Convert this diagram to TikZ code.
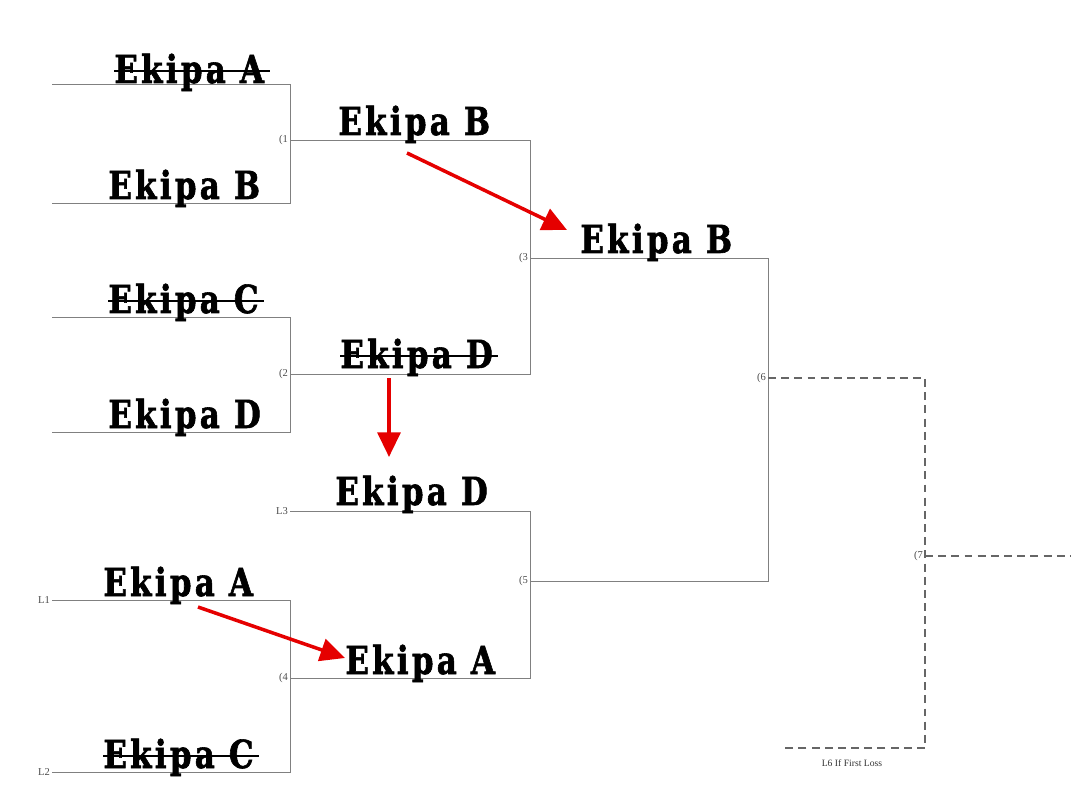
\documentclass[tikz,border=0pt]{standalone}
\usepackage{fontspec}
\setmainfont{Liberation Serif}
\newfontfamily\teamfont[FakeStretch=0.8,LetterSpace=8.5,FakeBold=1.5]{DejaVu Serif}
\usetikzlibrary{arrows.meta}
\tikzset{
  line/.style={draw=black!50, line width=0.5pt},
  tbd/.style={draw=black!60, line width=0.6pt, dash pattern=on 4.5pt off 3pt},
  team/.style={font=\teamfont\bfseries\fontsize{22}{22}\selectfont, anchor=base west, inner sep=0pt},
  strike/.style={draw=black, line width=1.3pt},
  gamenr/.style={font=\fontsize{6}{6}\selectfont, text=black!70, anchor=east, inner sep=1pt},
  winner/.style={draw=red!90!black, line width=2pt, -{Triangle[length=14pt,width=13pt]}}
}
\begin{document}
\begin{tikzpicture}[x=0.02cm, y=-0.02cm]
	\useasboundingbox (0,0) rectangle (1082,787);
	
	% ugla e shortit
	\coordinate (m1a) at (52,84);   \coordinate (m1b) at (52,203);
	\coordinate (m2a) at (52,317);  \coordinate (m2b) at (52,432);
	\coordinate (m4a) at (52,600);  \coordinate (m4b) at (52,772);
	\coordinate (w1) at (290,140);  \coordinate (w2) at (290,374);
	\coordinate (w4) at (290,678);  \coordinate (l3) at (290,511);
	\coordinate (w3) at (530,258);  \coordinate (w5) at (530,581);
	\coordinate (w6) at (768,378);  \coordinate (w7) at (925,556);
	\coordinate (l6) at (782,748);  \coordinate (end) at (1070,556);
	
	% raundi i pare
	\draw[line] (m1a) -- (m1a -| w1) -- (m1b -| w1) -- (m1b);
	\draw[line] (m2a) -- (m2a -| w2) -- (m2b -| w2) -- (m2b);
	\draw[line] (m4a) -- (m4a -| w4) -- (m4b -| w4) -- (m4b);
	
	% raundi i dyte
	\draw[line] (w1) -- (w1 -| w3) -- (w2 -| w3) -- (w2);
	\draw[line] (l3) -- (l3 -| w5) -- (w4 -| w5) -- (w4);
	
	% finalja
	\draw[line] (w3) -- (w3 -| w6) -- (w5 -| w6) -- (w5);
	\draw[tbd] (w6) -- (w6 -| w7) -- (l6 -| w7) -- (l6);
	\draw[tbd] (w7) -- (end);
	
	% numrat e ndeshjeve
	\node[gamenr] (n1) at (w1) {(1};
	\node[gamenr] (n2) at (w2) {(2};
	\node[gamenr] (n3) at (w3) {(3};
	\node[gamenr] (n4) at (w4) {(4};
	\node[gamenr] (n5) at (w5) {(5};
	\node[gamenr] (n6) at (w6) {(6};
	\node[gamenr] (n7) at (w7) {(7};
	\node[gamenr] (L1) at (m4a) {L1};
	\node[gamenr] (L2) at (m4b) {L2};
	\node[gamenr] (L3) at (l3) {L3};
	\node[font=\fontsize{5.5}{6}\selectfont, text=black!80, anchor=north] (L6) at (852,753) {L6 If First Loss};
	
	% ekipet
	\node[team] (tA1) at (114,83)  {Ekipa A};
	\node[team] (tB1) at (108,199) {Ekipa B};
	\node[team] (tC2) at (108,313) {Ekipa C};
	\node[team] (tD2) at (108,428) {Ekipa D};
	\node[team] (tB3) at (338,135) {Ekipa B};
	\node[team] (tD3) at (340,368) {Ekipa D};
	\node[team] (tB6) at (580,253) {Ekipa B};
	\node[team] (tD5) at (335,505) {Ekipa D};
	\node[team] (tA4) at (103,596) {Ekipa A};
	\node[team] (tA5) at (345,674) {Ekipa A};
	\node[team] (tC4) at (103,768) {Ekipa C};
	
	% ekipet e eliminuara
	\foreach \t in {tA1,tC2,tD3,tC4}
		\draw[strike] ([yshift=7pt]\t.base west) -- ([yshift=7pt,xshift=3pt]\t.base east);
	
	% shigjetat e fituesve
	\coordinate (s1) at (407,153);  \coordinate (e1) at (567,230);
	\coordinate (s2) at (389,378);  \coordinate (e2) at (389,457);
	\coordinate (s3) at (198,607);  \coordinate (e3) at (345,658);
	\draw[winner] (s1) -- (e1);
	\draw[winner] (s2) -- (e2);
	\draw[winner] (s3) -- (e3);
		
\end{tikzpicture}
\end{document}
